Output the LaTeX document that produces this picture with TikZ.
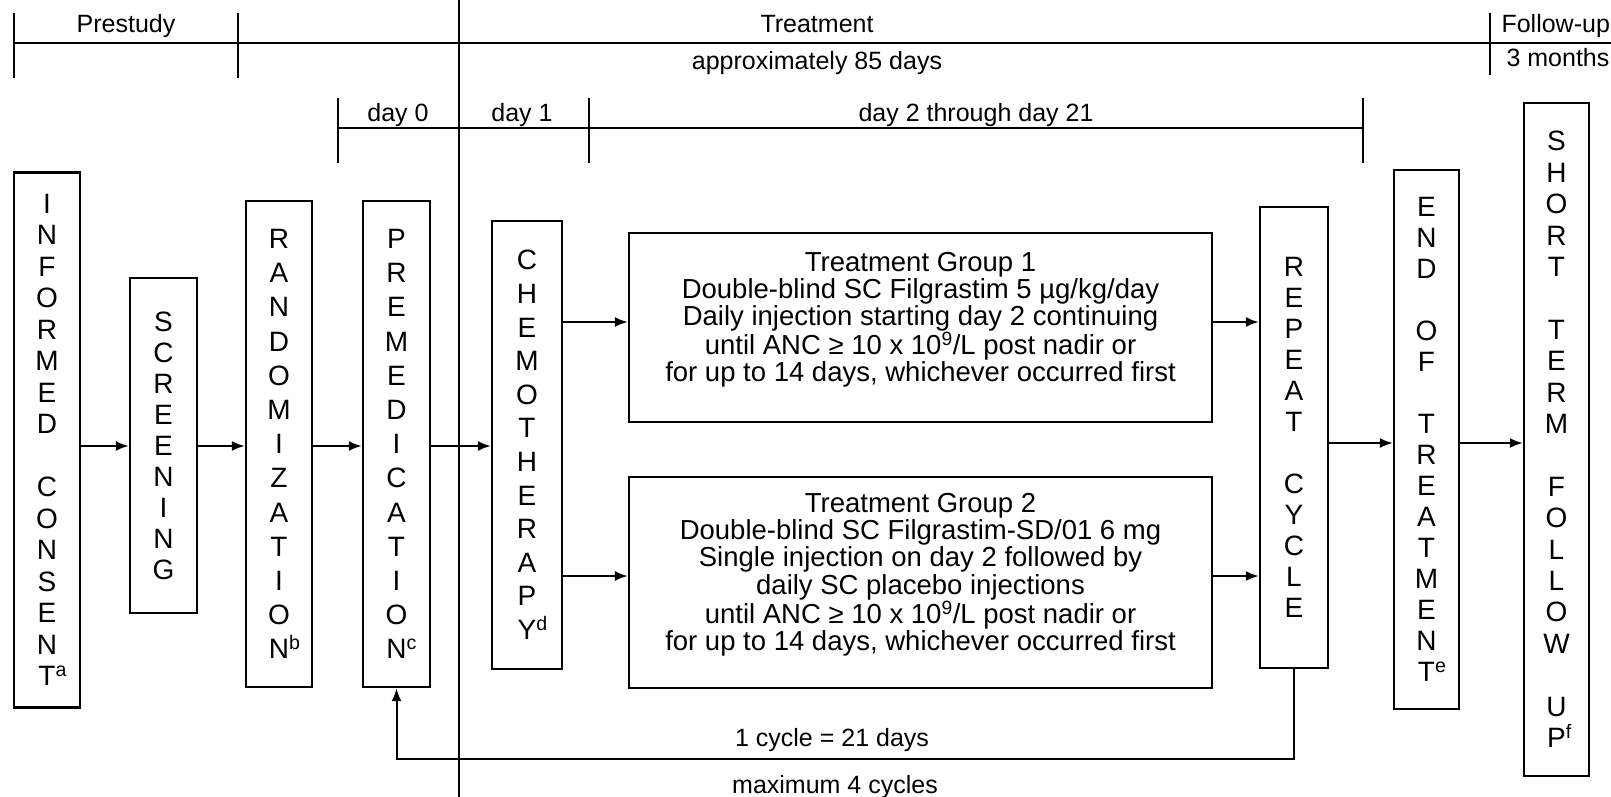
\documentclass[tikz,border=0pt]{standalone}
\usepackage{fontspec}
\setmainfont{Liberation Sans}
\usetikzlibrary{arrows.meta}
\begin{document}
\begin{tikzpicture}[x=1pt,y=-1pt,
  ln/.style={line width=2pt},
  box/.style={draw, line width=2.4pt, inner sep=0pt, align=center},
  vt/.style={box, font=\fontsize{28}{#1}\selectfont},
  arr/.style={line width=2pt, -{Latex[length=13pt,width=10pt]}},
  hd/.style={font=\fontsize{25}{30}\selectfont, anchor=base},
  tg/.style={box, font=\fontsize{27.5}{27.2}\selectfont},
]
\useasboundingbox (0,0) rectangle (1611,797);
% header lines
\draw[ln] (14,43) -- (1611,43);
\draw[ln] (14,13) -- (14,78);
\draw[ln] (238,13) -- (238,78);
\draw[ln] (1490,13) -- (1490,75);
\draw[ln] (459,0) -- (459,797);
\draw[ln] (338,128) -- (1363,128);
\draw[ln] (338,98) -- (338,163);
\draw[ln] (589,98) -- (589,163);
\draw[ln] (1363,98) -- (1363,163);
% header texts
\node[hd] (prestudy) at (126,33) {Prestudy};
\node[hd] (treat) at (817,33) {Treatment};
\node[hd] (approx) at (817,70) {approximately 85 days};
\node[hd, anchor=base west] (fu) at (1498,33) {Follow-up};
\node[hd, anchor=base west] (months) at (1503,67) {3 months};
\node[hd] (d0) at (398,122) {day 0};
\node[hd] (d1) at (522,122) {day 1};
\node[hd] (d2) at (976,122) {day 2 through day 21};
% boxes
\node[vt=31.5, minimum width=66pt, minimum height=535pt] (ic) at (47,440)
  {I\\N\\F\\O\\R\\M\\E\\D\\\mbox{}\\C\\O\\N\\S\\E\\N\\T\rlap{\textsuperscript{a}}};
\node[vt=31, minimum width=67pt, minimum height=335pt] (scr) at (163.5,445.5)
  {S\\C\\R\\E\\E\\N\\I\\N\\G};
\node[vt=34.2, minimum width=66pt, minimum height=486pt] (rand) at (279,444)
  {R\\A\\N\\D\\O\\M\\I\\Z\\A\\T\\I\\O\\N\rlap{\textsuperscript{b}}};
\node[vt=34.2, minimum width=67pt, minimum height=486pt] (pre) at (396.5,444)
  {P\\R\\E\\M\\E\\D\\I\\C\\A\\T\\I\\O\\N\rlap{\textsuperscript{c}}};
\node[vt=33.6, minimum width=70pt, minimum height=448pt] (chemo) at (527,445)
  {C\\H\\E\\M\\O\\T\\H\\E\\R\\A\\P\\Y\rlap{\textsuperscript{d}}};
\node[tg, minimum width=583pt, minimum height=189pt] (tg1) at (920.5,327.5)
  {Treatment Group 1\\Double-blind SC Filgrastim 5 µg/kg/day\\Daily injection starting day 2 continuing\\until ANC ≥ 10 x 10\textsuperscript{9}/L post nadir or\\for up to 14 days, whichever occurred first\\[-6pt]\mbox{}};
\node[tg, minimum width=583pt, minimum height=211pt] (tg2) at (920.5,582.5)
  {Treatment Group 2\\Double-blind SC Filgrastim-SD/01 6 mg\\Single injection on day 2 followed by\\daily SC placebo injections\\until ANC ≥ 10 x 10\textsuperscript{9}/L post nadir or\\for up to 14 days, whichever occurred first\\[-6pt]\mbox{}};
\node[vt=31, minimum width=68pt, minimum height=461pt] (rep) at (1294,437.5)
  {R\\E\\P\\E\\A\\T\\\mbox{}\\C\\Y\\C\\L\\E};
\node[vt=31, minimum width=65pt, minimum height=539pt] (endt) at (1426.5,439.5)
  {E\\N\\D\\\mbox{}\\O\\F\\\mbox{}\\T\\R\\E\\A\\T\\M\\E\\N\\T\rlap{\textsuperscript{e}}};
\node[vt=31.4, minimum width=65pt, minimum height=673pt] (short) at (1556.5,439.5)
  {S\\H\\O\\R\\T\\\mbox{}\\T\\E\\R\\M\\\mbox{}\\F\\O\\L\\L\\O\\W\\\mbox{}\\U\\P\rlap{\textsuperscript{f}}};
% helper levels
\coordinate (ymid) at (0,446);
\coordinate (yr) at (0,443);
\coordinate (yt1) at (0,322);
\coordinate (yt2) at (0,576);
\coordinate (yloop) at (0,759);
% arrows
\draw[arr] (ic.east |- ymid) -- (scr.west |- ymid);
\draw[arr] (scr.east |- ymid) -- (rand.west |- ymid);
\draw[arr] (rand.east |- ymid) -- (pre.west |- ymid);
\draw[arr] (pre.east |- ymid) -- (chemo.west |- ymid);
\draw[arr] (chemo.east |- yt1) -- (tg1.west |- yt1);
\draw[arr] (chemo.east |- yt2) -- (tg2.west |- yt2);
\draw[arr] (tg1.east |- yt1) -- (rep.west |- yt1);
\draw[arr] (tg2.east |- yt2) -- (rep.west |- yt2);
\draw[arr] (rep.east |- yr) -- (endt.west |- yr);
\draw[arr] (endt.east |- yr) -- (short.west |- yr);
\draw[arr] (rep.south) -- (rep.south |- yloop) -- (pre.south |- yloop) -- (pre.south);
% loop labels
\node[hd] (cyc) at (832,746) {1 cycle = 21 days};
\node[hd] (maxc) at (835,793) {maximum 4 cycles};
\end{tikzpicture}
\end{document}
